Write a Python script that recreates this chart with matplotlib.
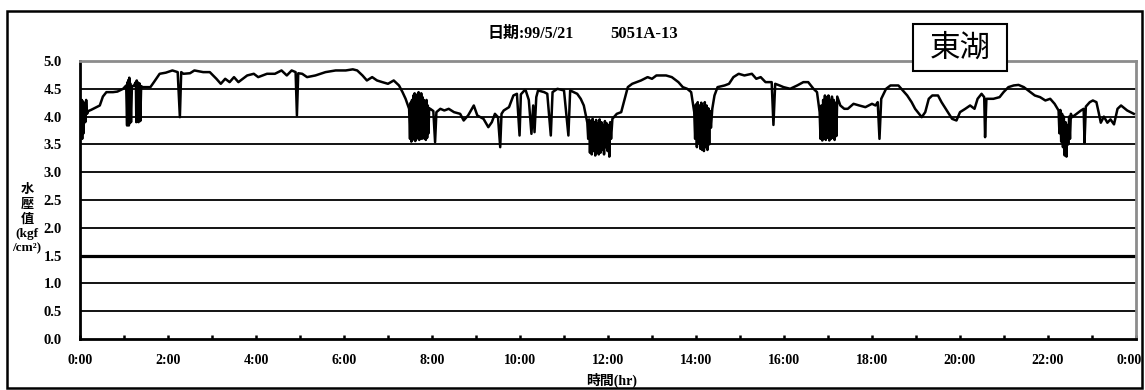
import numpy as np
import matplotlib
matplotlib.use('Agg')
import matplotlib.pyplot as plt
import matplotlib.transforms as mtransforms
from matplotlib.patches import Rectangle
from matplotlib.ticker import MultipleLocator, FixedLocator

# ---------------- data ----------------
TITLE_DATE = '日期:99/5/21'
TITLE_ID = '5051A-13'
STATION = '東湖'
THRESHOLD = 1.5

# 時間 (hr) / 水壓值 (kgf/cm²), one line per stretch of the day
hours = [
    0.00, 0.02, 0.03, 0.04, 0.05, 0.06, 0.08, 0.10, 0.12, 0.14, 0.16, 0.19,
    0.25, 0.35, 0.45, 0.52, 0.60, 0.75, 0.85, 0.98, 1.05,
    1.07, 1.08, 1.09, 1.10, 1.11, 1.12, 1.13, 1.14, 1.16, 1.18,
    1.22, 1.27, 1.28, 1.29, 1.30, 1.31, 1.33, 1.35, 1.37, 1.39, 1.42,
    1.60, 1.68, 1.81, 1.95, 2.10, 2.22, 2.27, 2.30, 2.35, 2.50,
    2.60, 2.80, 2.95, 3.10, 3.20, 3.30, 3.40, 3.50, 3.60, 3.70,
    3.80, 3.95, 4.05, 4.25, 4.43, 4.58, 4.70, 4.81, 4.90, 4.93,
    4.96, 5.05, 5.16, 5.35, 5.58, 5.81, 6.04, 6.20, 6.30, 6.42,
    6.52, 6.64, 6.75, 6.87, 7.00, 7.13, 7.25, 7.33, 7.40, 7.48,
    7.500, 7.515, 7.530, 7.545, 7.560, 7.575, 7.590, 7.605, 7.620, 7.635,
    7.650, 7.665, 7.680, 7.695, 7.710, 7.725, 7.740, 7.755, 7.770, 7.785,
    7.800, 7.815, 7.830, 7.845, 7.860, 7.875, 7.890, 7.905, 7.920, 7.935,
    7.96, 8.03, 8.07, 8.10, 8.19, 8.28, 8.38, 8.50, 8.64, 8.72,
    8.82, 8.95, 9.03, 9.17, 9.28, 9.36, 9.43, 9.50, 9.55, 9.58,
    9.63, 9.75, 9.85, 9.93, 9.99, 10.02, 10.10, 10.13, 10.20, 10.26,
    10.30, 10.33, 10.37, 10.41, 10.55, 10.62, 10.70, 10.74, 10.85, 11.00,
    11.10, 11.14, 11.22, 11.30, 11.38, 11.45, 11.53,
    11.55, 11.57, 11.59, 11.61, 11.63, 11.65, 11.67, 11.69, 11.71, 11.73,
    11.75, 11.77, 11.79, 11.81, 11.83, 11.85, 11.87, 11.89, 11.91, 11.93,
    11.95, 11.97, 11.99, 12.01, 12.03, 12.05, 12.07, 12.10,
    12.20, 12.30, 12.38, 12.45, 12.55, 12.75, 12.90, 13.00, 13.10, 13.32,
    13.45, 13.60, 13.70, 13.80, 13.89, 13.96,
    13.98, 14.00, 14.02, 14.04, 14.06, 14.08, 14.10, 14.12, 14.14, 14.16,
    14.18, 14.20, 14.22, 14.24, 14.26, 14.28, 14.30, 14.32, 14.34, 14.37,
    14.42, 14.49, 14.65, 14.75, 14.85, 14.97, 15.10, 15.27, 15.37, 15.47,
    15.58, 15.72, 15.76, 15.80, 15.90, 15.99, 16.14, 16.30, 16.44, 16.55,
    16.67, 16.75, 16.81,
    16.83, 16.85, 16.87, 16.89, 16.91, 16.93, 16.95, 16.97, 16.99, 17.01,
    17.03, 17.05, 17.07, 17.09, 17.11, 17.13, 17.15, 17.17, 17.19, 17.21,
    17.28, 17.37, 17.45, 17.58, 17.71, 17.85, 18.00, 18.08, 18.13, 18.17,
    18.21, 18.32, 18.42, 18.60, 18.70, 18.80, 18.90, 18.98, 19.13, 19.21,
    19.29, 19.37, 19.50, 19.58, 19.70, 19.82, 19.92, 20.00, 20.12, 20.23,
    20.33, 20.40, 20.49, 20.55, 20.57, 20.60, 20.76, 20.90, 20.99, 21.10,
    21.22, 21.33, 21.45, 21.60, 21.70, 21.82, 21.94, 22.05, 22.15, 22.24,
    22.26, 22.28, 22.30, 22.32, 22.34, 22.36, 22.38, 22.40, 22.42, 22.44,
    22.46, 22.48, 22.50, 22.52, 22.55,
    22.65, 22.75, 22.81, 22.83, 22.86, 22.95, 23.02, 23.10, 23.15, 23.20,
    23.27, 23.35, 23.42, 23.50, 23.58, 23.66, 23.80, 23.95,
]
pressure = [
    4.08, 4.30, 3.62, 4.30, 3.60, 4.28, 3.70, 4.25, 3.90, 4.30, 4.05, 4.10,
    4.12, 4.16, 4.20, 4.36, 4.44, 4.44, 4.45, 4.50, 4.56,
    3.84, 4.62, 3.86, 4.66, 3.84, 4.70, 3.88, 4.60, 3.90, 4.55,
    4.55, 4.62, 3.90, 4.65, 3.92, 4.62, 3.90, 4.60, 3.92, 4.55, 4.53,
    4.53, 4.62, 4.77, 4.79, 4.83, 4.80, 3.99, 4.80, 4.77, 4.78,
    4.83, 4.80, 4.80, 4.68, 4.59, 4.68, 4.62, 4.71, 4.62, 4.68,
    4.74, 4.77, 4.71, 4.77, 4.77, 4.83, 4.74, 4.83, 4.80, 4.02,
    4.78, 4.77, 4.71, 4.74, 4.80, 4.83, 4.83, 4.85, 4.83, 4.74,
    4.65, 4.71, 4.65, 4.62, 4.59, 4.65, 4.56, 4.44, 4.32, 4.14,
    3.60, 4.25, 3.55, 4.30, 3.58, 4.38, 3.62, 4.42, 3.56, 4.35,
    3.60, 4.40, 3.65, 4.44, 3.58, 4.30, 3.62, 4.42, 3.60, 4.35,
    3.66, 4.30, 3.60, 4.25, 3.58, 4.30, 3.62, 4.20, 3.70, 4.15,
    4.14, 4.10, 3.54, 4.08, 4.14, 4.11, 4.14, 4.08, 4.05, 3.93,
    4.02, 4.20, 4.02, 3.96, 3.81, 3.90, 4.05, 3.99, 3.45, 4.05,
    4.11, 4.17, 4.38, 4.41, 3.66, 4.40, 4.47, 4.47, 4.30, 3.69,
    4.20, 3.72, 4.35, 4.47, 4.44, 4.41, 3.66, 4.44, 4.50, 4.47,
    3.66, 4.47, 4.44, 4.41, 4.32, 4.20, 3.89,
    3.60, 3.95, 3.35, 3.92, 3.32, 3.96, 3.38, 3.90, 3.30, 3.94,
    3.36, 3.88, 3.32, 3.95, 3.35, 3.90, 3.40, 3.85, 3.32, 3.92,
    3.45, 3.88, 3.38, 3.85, 3.28, 3.90, 3.60, 3.96,
    4.05, 4.08, 4.32, 4.53, 4.59, 4.65, 4.71, 4.68, 4.74, 4.74,
    4.71, 4.62, 4.53, 4.50, 4.44, 4.08,
    3.60, 4.22, 3.45, 4.26, 3.52, 4.20, 3.42, 4.25, 3.40, 4.18,
    3.38, 4.26, 3.45, 4.20, 3.40, 4.15, 3.50, 4.10, 3.80, 4.14,
    4.38, 4.53, 4.56, 4.59, 4.71, 4.77, 4.74, 4.77, 4.68, 4.71,
    4.62, 4.62, 3.85, 4.59, 4.56, 4.53, 4.50, 4.56, 4.62, 4.62,
    4.50, 4.44, 4.08,
    3.60, 4.20, 3.57, 4.30, 3.60, 4.38, 3.58, 4.35, 3.62, 4.38,
    3.57, 4.30, 3.60, 4.36, 3.62, 4.30, 3.58, 4.25, 3.65, 4.36,
    4.20, 4.14, 4.14, 4.23, 4.20, 4.17, 4.23, 4.20, 4.26, 3.60,
    4.32, 4.50, 4.56, 4.56, 4.47, 4.38, 4.26, 4.14, 3.99, 4.08,
    4.32, 4.38, 4.38, 4.26, 4.11, 3.96, 3.93, 4.08, 4.14, 4.20,
    4.14, 4.32, 4.41, 4.35, 3.63, 4.32, 4.32, 4.35, 4.44, 4.53,
    4.56, 4.57, 4.53, 4.44, 4.38, 4.35, 4.29, 4.32, 4.23, 4.11,
    3.70, 4.12, 3.55, 4.05, 3.45, 4.00, 3.30, 3.90, 3.28, 3.85,
    3.50, 4.00, 3.60, 4.05, 3.99,
    4.05, 4.11, 4.14, 3.53, 4.18, 4.26, 4.29, 4.26, 4.08, 3.89,
    4.00, 3.89, 3.95, 3.86, 4.14, 4.20, 4.11, 4.05,
]
assert len(hours) == len(pressure)

y_ticks = [0.0, 0.5, 1.0, 1.5, 2.0, 2.5, 3.0, 3.5, 4.0, 4.5, 5.0]
x_ticks = list(range(0, 25, 2))
x_labels = ['0:00', '2:00', '4:00', '6:00', '8:00', '10:00', '12:00',
            '14:00', '16:00', '18:00', '20:00', '22:00', '0:00']

# ---------------- figure ----------------
W, H = 1145, 390
fig = plt.figure(figsize=(W / 100, H / 100), dpi=100)
fig.patch.set_facecolor('white')

# outer frame of the chart
fig.add_artist(Rectangle((7 / W, 1 - 388 / H), (1142 - 7) / W, (388 - 11) / H,
                         transform=fig.transFigure, fill=False,
                         edgecolor='black', lw=1.8))

ax = fig.add_axes([80 / W, 1 - 339 / H, (1136 - 80) / W, (339 - 61) / H])
ax.set_xlim(0, 24)
ax.set_ylim(0, 5.0)

# horizontal gridlines (1.5 is the heavier warning line)
for y in y_ticks[1:-1]:
    if y == THRESHOLD:
        continue
    ax.axhline(y, color='black', lw=1.3, zorder=1)
ax.axhline(THRESHOLD, color='black', lw=2.3, zorder=1)

ax.plot(hours, pressure, color='black', lw=1.8, zorder=3)

# spines
for side in ['left', 'bottom']:
    ax.spines[side].set_color('black')
    ax.spines[side].set_linewidth(2.0)
for side in ['top', 'right']:
    ax.spines[side].set_color('#8c8c8c')
    ax.spines[side].set_linewidth(2.0)

tick_font = dict(family='Liberation Serif', weight='bold', size=10.5)
ax.set_yticks(y_ticks)
ax.set_yticklabels([f'{v:.1f}' for v in y_ticks], fontdict=tick_font)
ax.tick_params(axis='y', length=0, pad=13)

ax.xaxis.set_major_locator(FixedLocator(x_ticks))
ax.xaxis.set_minor_locator(MultipleLocator(1))
ax.set_xticklabels(x_labels, fontdict=dict(tick_font, size=10))
ax.tick_params(axis='x', which='both', direction='in', length=3, width=1.8, pad=11)

# last "0:00" sits against the frame edge, keep it inside the picture
last = ax.get_xticklabels()[-1]
last.set_ha('right')
last.set_transform(last.get_transform() +
                   mtransforms.ScaledTranslation(6 / 100, 0, fig.dpi_scale_trans))

# titles and labels
cjk = ['Liberation Serif', 'Noto Sans CJK TC']
fig.text(531 / W, 1 - 34 / H, TITLE_DATE, ha='center', va='center',
         family=cjk, weight='bold', fontsize=11.5)
fig.text(644 / W, 1 - 34 / H, TITLE_ID, ha='center', va='center',
         family=cjk, weight='bold', fontsize=12)

fig.text(612 / W, 1 - 380 / H, '時間(hr)', ha='center', va='center',
         family=cjk, weight='bold', fontsize=10)
fig.text(27 / W, 1 - 219 / H, '水\n壓\n值\n(kgf\n/cm²)', ha='center', va='center',
         family=cjk, weight='bold', fontsize=9.5, linespacing=1.25)

# station name box
fig.add_artist(Rectangle((913 / W, 1 - 71 / H), 94 / W, 47 / H,
                         transform=fig.transFigure, facecolor='white',
                         edgecolor='black', lw=1.5, zorder=5))
fig.text(960 / W, 1 - 48 / H, STATION, ha='center', va='center',
         family=['Noto Sans CJK TC'], fontsize=22, zorder=6)

fig.savefig('out.png', dpi=100, facecolor='white')
